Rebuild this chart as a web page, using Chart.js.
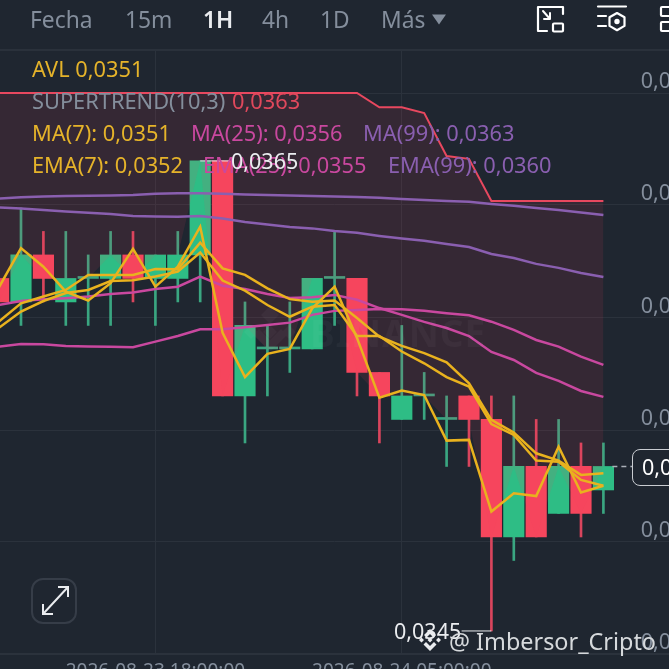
<!DOCTYPE html>
<html><head><meta charset="utf-8">
<style>
html,body{margin:0;padding:0;background:#1f2630;width:669px;height:669px;overflow:hidden}
#wrap{position:relative;width:669px;height:669px;overflow:hidden;font-family:"Noto Sans",sans-serif}
canvas{position:absolute;left:0;top:0}
.t{position:absolute;white-space:nowrap;line-height:1;transform:translateY(-50%)}
.h{font-size:22.8px;color:#848e9c}
.l{font-size:21.8px}
svg{position:absolute;left:0;top:0}
</style>
<script src="https://cdn.jsdelivr.net/npm/chart.js@4"></script>
</head><body><div id="wrap">
<canvas id="c" width="669" height="669"></canvas>
<svg width="669" height="669" fill="none">
 <g fill="#fff" opacity=".035"><path d="M270 306l9 9-9 9-9-9zM251 325l7 7-7 7-7-7zM289 325l7 7-7 7-7-7zM270 325l7 7-7 7-7-7zM270 340l11-11 6 6-17 17-17-17 6-6z"/></g>
 <g stroke="#fff" stroke-width="2.2" stroke-linecap="round" stroke-linejoin="round">
  <path d="M563 14V7H538V31H547"/><rect x="553" y="23.5" width="10" height="8" rx="1"/><path d="M543 11l7 8M544 19h6v-6" stroke-width="2"/>
  <path d="M598 6.5H626M598 16H606M598 26H606"/><path d="M617 13l7.5 4.3v8.6l-7.5 4.3-7.5-4.3v-8.6z"/><circle cx="617" cy="21.5" r="1.6" fill="#fff"/>
  <rect x="661" y="7" width="14" height="9" rx="1"/><rect x="661" y="22" width="14" height="9" rx="1"/>
 </g>
 <path d="M432 14.5h14l-7 10z" fill="#848e9c"/>
 <rect x="32" y="579" width="44" height="44" rx="11" stroke="#363d48" stroke-width="2"/>
 <g stroke="#eaecef" stroke-width="2"><path d="M43 614l25-27M58 587h10v10M43 604v10h10"/></g>
 <g fill="#eaecef"><path d="M430 629l6 6-2.5 2.5L430 634l-3.5 3.5L424 635zM419 640l2.5-2.5 2.5 2.5-2.5 2.5zM436 640l2.5-2.5 2.5 2.5-2.5 2.5zM427.5 640l2.5-2.5 2.5 2.5-2.5 2.5zM430 646l4-4 2.5 2.5L430 651l-6.5-6.5L426 642z"/></g>
</svg>
<div style="position:absolute;left:0;top:49px;width:669px;height:2px;background:#2a313b"></div>
<span class="t h" style="left:30px;top:20px">Fecha</span>
<span class="t h" style="left:125px;top:20px">15m</span>
<span class="t h" style="left:203px;top:20px;color:#eaecef;font-weight:600">1H</span>
<span class="t h" style="left:262px;top:20px">4h</span>
<span class="t h" style="left:320px;top:20px">1D</span>
<span class="t h" style="left:381px;top:20px">Más</span>
<span class="t l" style="left:32px;top:69px;color:#e5b32a">AVL 0,0351</span>
<span class="t l" style="left:32px;top:101px;color:#848e9c">SUPERTREND(10,3)</span>
<span class="t l" style="left:232px;top:101px;color:#e0485c">0,0363</span>
<span class="t l" style="left:32px;top:133px;color:#e5b32a">MA(7): 0,0351</span>
<span class="t l" style="left:191px;top:133px;color:#c9489f">MA(25): 0,0356</span>
<span class="t l" style="left:363px;top:133px;color:#8a5fb0">MA(99): 0,0363</span>
<span class="t l" style="left:32px;top:165px;color:#e5b32a">EMA(7): 0,0352</span>
<span class="t l" style="left:203px;top:165px;color:#c9489f">EMA(25): 0,0355</span>
<span class="t l" style="left:388px;top:165px;color:#8a5fb0">EMA(99): 0,0360</span>
<span class="t" style="left:231px;top:161px;font-size:21.5px;color:#eaecef">0,0365</span>
<span class="t" style="left:394px;top:631px;font-size:21.5px;color:#eaecef">0,0345</span>
<span class="t" style="left:449px;top:642px;font-size:23.4px;color:#d6d9dc">@ Imbersor_Cripto</span>
<span class="t" style="left:310px;top:332px;font-size:37px;font-weight:700;color:rgba(255,255,255,.035);letter-spacing:1px">BINANCE</span>
<div style="position:absolute;left:632px;top:449px;width:60px;height:35px;border:1px solid #c9ccd1;border-radius:8px;background:#1f2630"></div>
<span class="t" style="left:642px;top:467px;font-size:21.5px;color:#fff">0,0352</span>
</div>
<script>
const candleIndex=[-1,0,1,2,3,4,5,6,7,8,9,10,11,12,13,14,15,16,17,18,19,20,21,22,23,24,25,26];
const opens =[.0360,.0359,.0361,.0359,.0360,.0360,.0361,.0360,.0360,.0361,.0365,.0355,.0357,.0357,.0357,.0360,.0360,.0356,.0354,.0355,.0354,.0355,.0354,.0349,.0352,.0350,.0352,.0351];
const closes=[.0359,.0361,.0360,.0360,.0360,.0361,.0360,.0361,.0361,.0365,.0355,.0358,.0357,.0357,.0360,.0360,.0356,.0355,.0355,.0355,.0354,.0354,.0349,.0352,.0349,.0352,.0350,.0352];
const highs =[.0360,.0363,.0362,.0362,.0361,.0362,.0362,.0361,.0362,.0365,.0365,.0359,.0358,.0359,.0360,.0362,.0360,.0356,.0358,.0356,.0355,.0355,.0355,.0355,.0354,.0354,.0353,.0353];
const lows  =[.0359,.0358,.0359,.0358,.0358,.0358,.0359,.0358,.0359,.0359,.0355,.0353,.0355,.0356,.0357,.0358,.0355,.0353,.0354,.0354,.0352,.0352,.0345,.0348,.0349,.0350,.0349,.0350];
const ma7  =[.035789,.035859,.035904,.035938,.035951,.035989,.035992,.036008,.036029,.036110,.035991,.035948,.035887,.035837,.035880,.035887,.035755,.035755,.035689,.035639,.035580,.035540,.035380,.035334,.035225,.035220,.035143,.035118];
const ema7 =[.035816,.035894,.035923,.035951,.036015,.036015,.036015,.036040,.036039,.036152,.036043,.036015,.035958,.035912,.035901,.035906,.035832,.035752,.035713,.035682,.035643,.035554,.035398,.035344,.035256,.035225,.035164,.035171];
const avl  =[.035960,.036129,.036050,.035944,.035906,.035980,.036126,.035965,.036050,.036220,.035769,.035580,.035679,.035700,.035873,.035965,.035747,.035493,.035523,.035504,.035310,.035313,.035008,.035086,.035074,.035284,.035089,.035118];
const ma25 =[.035710,.035721,.035720,.035713,.035710,.035709,.035707,.035731,.035755,.035784,.035784,.035792,.035802,.035812,.035845,.035862,.035866,.035870,.035869,.035863,.035852,.035843,.035816,.035781,.035738,.035710,.035667,.035632];
const ema25=[.035887,.035904,.035911,.035916,.035923,.035934,.035940,.035955,.035965,.036008,.035969,.035955,.035934,.035917,.035920,.035930,.035909,.035874,.035845,.035815,.035789,.035755,.035687,.035653,.035598,.035564,.035521,.035496];
const ma99 =[.036340,.036345,.036349,.036351,.036352,.036353,.036355,.036360,.036362,.036362,.036360,.036357,.036355,.036353,.036351,.036349,.036347,.036343,.036338,.036334,.036330,.036326,.036317,.036309,.036300,.036291,.036281,.036270];
const ema99=[.036302,.036298,.036291,.036285,.036279,.036274,.036266,.036264,.036262,.036266,.036255,.036240,.036230,.036219,.036213,.036202,.036194,.036181,.036170,.036160,.036147,.036134,.036104,.036087,.036062,.036045,.036023,.036006];
const superTrend=[.036789,.036789,.036789,.036789,.036789,.036789,.036789,.036789,.036789,.036789,.036789,.036789,.036789,.036789,.036789,.036789,.036789,.036728,.036728,.036704,.036521,.036509,.036330,.036330,.036330,.036330,.036330,.036330];
const priceTicks=[.036789,.036313,.035834,.035355,.034879,.034402];
const timeTicks=[6,17];
const timeLabels=["2026-08-23 18:00:00","2026-08-24 05:00:00"];
const highMark=[[8,.0365],[9.34,.0365]];
const lowMark=[[21,.0345],[19.67,.0345]];
const lastMark=[[26.4,.0352],[27.3,.0352]];

const GREEN='#2ebd85',RED='#f6465d',GREENW='#3aa681',REDW='#d9455d';
const up=closes.map((c,i)=>c>=opens[i]);
const pts=a=>candleIndex.map((x,i)=>({x,y:a[i]}));
const mk=a=>a.map(p=>({x:p[0],y:p[1]}));
const line=(label,data,color,order,extra)=>Object.assign({type:'line',label,data,borderColor:color,borderWidth:2.5,pointRadius:0,tension:0,fill:false,order},extra||{});
const datasets=[
 line('AVL',pts(avl),'#e9b21e',1),
 line('MA7',pts(ma7),'#e9b21e',1),
 line('EMA7',pts(ema7),'#e9b21e',1),
 line('MA25',pts(ma25),'#c9489f',1.5),
 line('EMA25',pts(ema25),'#c9489f',1.5),
 line('MA99',pts(ma99),'#8a5fb0',1.5),
 line('EMA99',pts(ema99),'#8a5fb0',1.5),
 line('High',mk(highMark),'#eaecef',1,{borderWidth:1}),
 line('Low',mk(lowMark),'#eaecef',1,{borderWidth:1}),
 line('Last',mk(lastMark),'#aab0b8',1,{borderWidth:1.5,borderDash:[5,4]}),
 line('Supertrend',pts(superTrend),'#e8485f',2,{borderWidth:2,fill:{target:11},backgroundColor:'rgba(246,70,93,.105)'}),
 line('Close',pts(closes),'rgba(0,0,0,0)',9,{borderWidth:0}),
 {type:'bar',label:'Body',data:candleIndex.map((x,i)=>({x,y:[opens[i],closes[i]]})),backgroundColor:up.map((u,i)=>opens[i]===closes[i]?GREENW:(u?GREEN:RED)),barThickness:20.5,minBarLength:2,grouped:false,order:3},
 {type:'bar',label:'Wick',data:candleIndex.map((x,i)=>({x,y:[lows[i],highs[i]]})),backgroundColor:up.map(u=>u?GREENW:REDW),barThickness:2,grouped:false,order:4}
];
Chart.defaults.font.family='"Noto Sans",sans-serif';
new Chart(document.getElementById('c'),{
 type:'bar',
 data:{datasets},
 options:{
  responsive:false,animation:false,
  layout:{autoPadding:false,padding:{top:50,left:0,right:0,bottom:0}},
  plugins:{legend:{display:false},tooltip:{enabled:false},title:{display:false}},
  scales:{
   x:{type:'linear',offset:false,min:-0.9375,max:28.9286,
      afterBuildTicks:s=>{s.ticks=timeTicks.map(v=>({value:v}))},
      afterFit:s=>{s.height=15;s.paddingLeft=0;s.paddingRight=0},
      grid:{offset:false,color:'#2b323c',lineWidth:1,drawTicks:false},border:{display:true,color:'#2b323c',width:2},
      ticks:{color:'#848e9c',font:{size:19},padding:6,maxRotation:0,autoSkip:false,callback:v=>timeLabels[timeTicks.indexOf(v)]}},
   y:{type:'linear',position:'right',min:.034402,max:.036972,
      afterBuildTicks:s=>{s.ticks=priceTicks.map(v=>({value:v}))},
      afterFit:s=>{s.width=0;s.paddingTop=0;s.paddingBottom=0},
      grid:{color:'#2b323c',lineWidth:1,drawTicks:false},border:{display:false},
      ticks:{mirror:true,color:'#848e9c',font:{size:21.5},padding:39,labelOffset:-11,autoSkip:false,callback:v=>v.toFixed(4).replace('.',',')}}
  }
 }
});
</script>
</body></html>
